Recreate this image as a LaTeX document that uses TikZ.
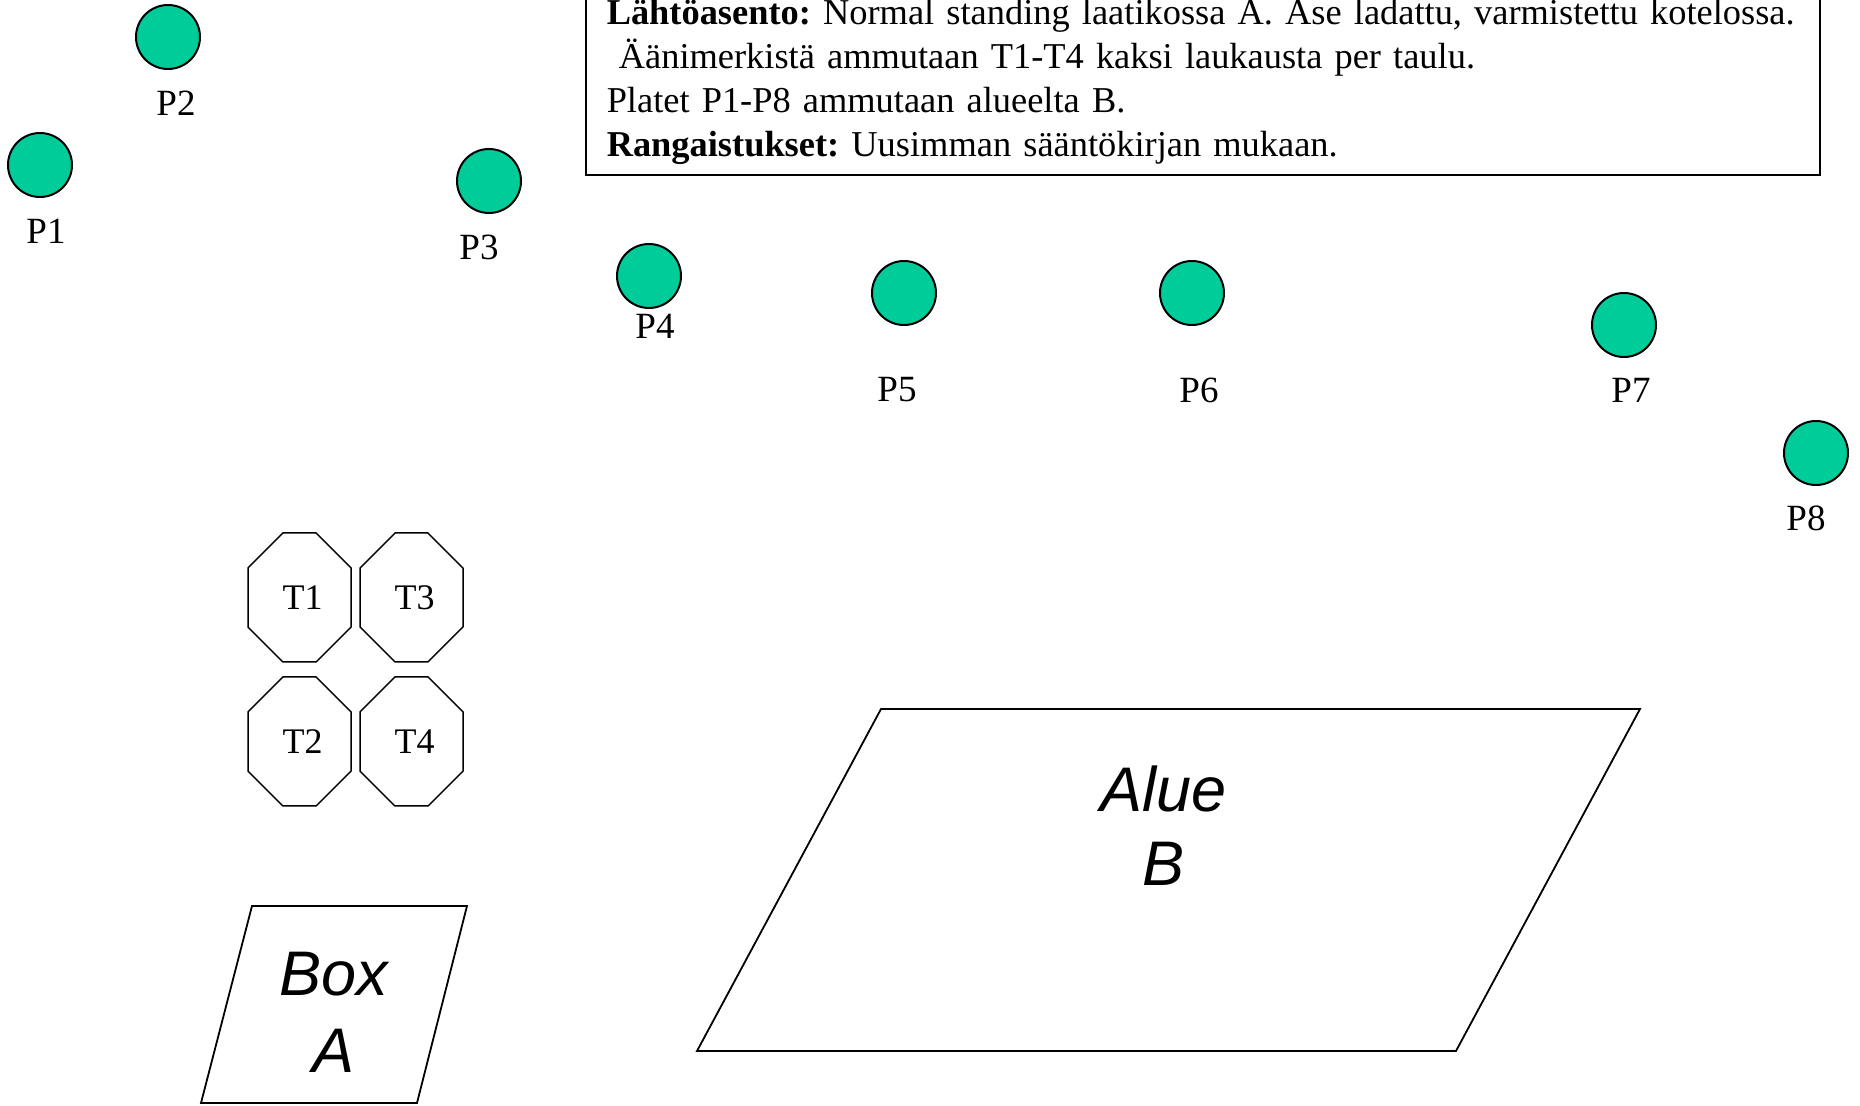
\documentclass[tikz,border=0pt]{standalone}
\usepackage{fontspec}
\setmainfont{Liberation Serif}
\setsansfont{Liberation Sans}
\usetikzlibrary{shapes.misc}
\definecolor{platecol}{RGB}{0,204,153}
\frenchspacing

\begin{document}
\begin{tikzpicture}[x=0.5pt,y=-0.5pt]
  \useasboundingbox (0,0) rectangle (1860,1106);

      % plates
      \begin{scope}[every node/.style={circle,draw,line width=1pt,fill=platecol,minimum size=32pt,inner sep=0pt}]
        \node (p1) at (40,165) {};
        \node (p2) at (168,37) {};
        \node (p3) at (489,181) {};
        \node (p4) at (649,276) {};
        \node (p5) at (904,293) {};
        \node (p6) at (1192,293) {};
        \node (p7) at (1624,325) {};
        \node (p8) at (1816,453) {};
      \end{scope}

      % plate labels
      \begin{scope}[every node/.style={inner sep=0pt,font=\fontsize{18.5}{22}\selectfont}]
        \node (l1) at (46,231) {P1};
        \node (l2) at (176,103) {P2};
        \node (l3) at (479,247) {P3};
        \node (l4) at (655,326) {P4};
        \node (l5) at (897,390) {P5};
        \node (l6) at (1199,390) {P6};
        \node (l7) at (1631,390) {P7};
        \node (l8) at (1806,518) {P8};
      \end{scope}

      % targets
      \begin{scope}[every node/.style={chamfered rectangle,draw,line width=0.75pt,inner sep=0pt,
          minimum width=51.5pt,minimum height=64.5pt,
          chamfered rectangle xsep=17.25pt,chamfered rectangle ysep=21.5pt,
          font=\fontsize{18}{21}\selectfont}]
        \node (t1) at (299.5,597.5) {\,T1};
        \node (t2) at (299.5,741.5) {\,T2};
        \node (t3) at (411.5,597.5) {\,T3};
        \node (t4) at (411.5,741.5) {\,T4};
      \end{scope}

      % shooting areas
      \begin{scope}[line width=0.9pt,every node/.style={align=center,inner sep=0pt}]
        \draw (252,906) -- (467,906) -- (417,1103) -- (201,1103) -- cycle;
        \node (boxa) at (334,1012) [font=\sffamily\itshape\fontsize{31.5}{38.5}\selectfont] {Box\\A};
        \draw (881,709) -- (1640,709) -- (1456,1051) -- (697,1051) -- cycle;
        \node (alueb) at (1164,826) [font=\sffamily\itshape\fontsize{31.5}{37}\selectfont] {Alue\\B};
      \end{scope}

      % briefing
      \node (rules) [draw,line width=0.75pt,anchor=south west,inner xsep=10.5pt,inner ysep=5.5pt,
        text width=596pt,align=left,font=\fontsize{18.2}{22}\selectfont] at (585,176)
        {\textbf{Lähtöasento:} Normal standing laatikossa A. Ase ladattu, varmistettu kotelossa.\\
         \ Äänimerkistä ammutaan T1-T4 kaksi laukausta per taulu.\\
         Platet P1-P8 ammutaan alueelta B.\\
         \textbf{Rangaistukset:} Uusimman sääntökirjan mukaan.};

\end{tikzpicture}
\end{document}
